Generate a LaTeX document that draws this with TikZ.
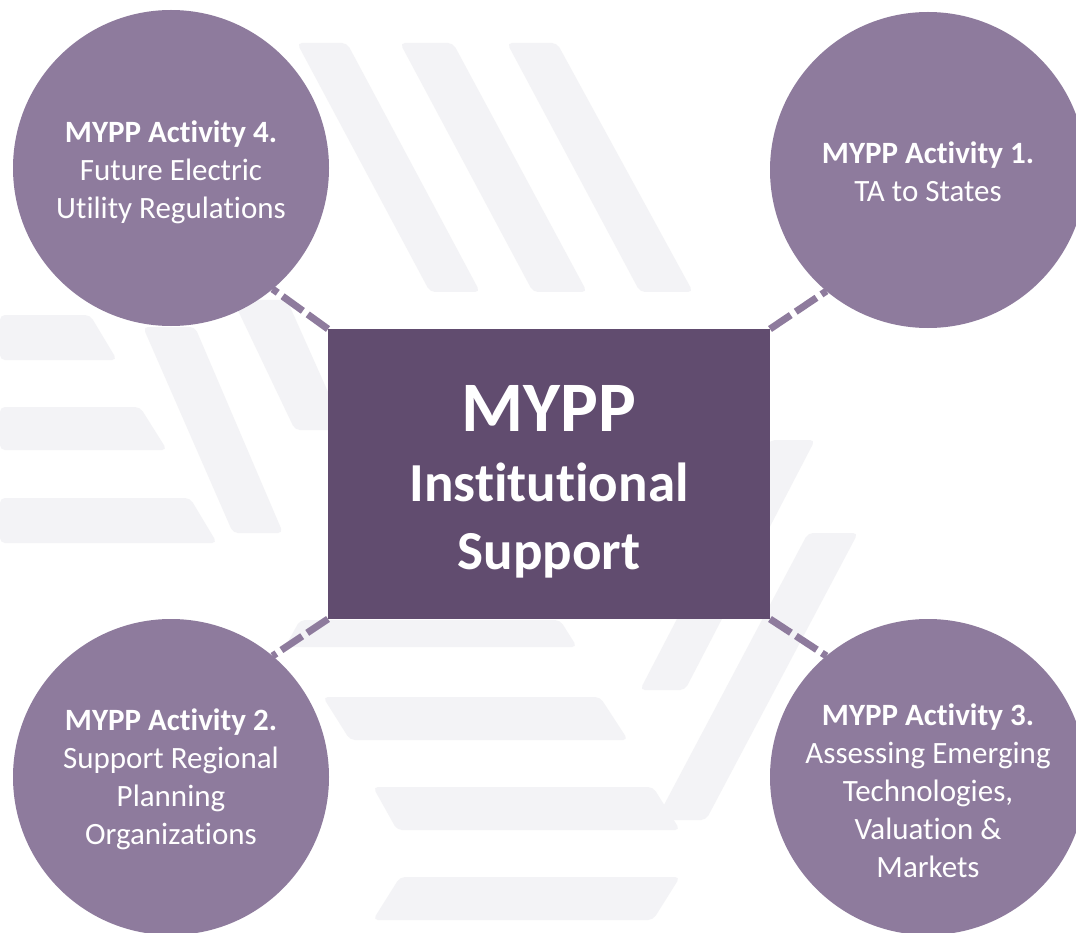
\documentclass[tikz,border=0pt]{standalone}
\usepackage{fontspec}
\setmainfont{Carlito}[Ligatures={NoCommon}]
\definecolor{actfill}{HTML}{8E7B9D}
\definecolor{corefill}{HTML}{614C6F}
\definecolor{stripe}{HTML}{F3F3F6}
\tikzset{
	act/.style={circle, fill=actfill, minimum size=316pt, inner sep=0pt, outer sep=0pt},
	acttxt/.style={align=center, text=white, font=\fontsize{31}{38}\selectfont},
	core/.style={rectangle, fill=corefill, minimum width=442pt, minimum height=290pt, inner sep=0pt, outer sep=0pt},
	coretxt/.style={align=center, text=white, font=\fontsize{55}{68}\selectfont\bfseries},
	link/.style={draw=actfill, line width=7pt, dash pattern=on 25pt off 6pt},
	bgband/.style={fill=stripe, rounded corners=5pt},
}

\begin{document}
\begin{tikzpicture}[x=1pt, y=-1pt]
	\useasboundingbox (0,0) rectangle (1076,933);
	\fill[white] (0,0) rectangle (1076,933);
	% faint logo in the background
	\fill[bgband] (297,43) -- (347,43) -- (480,292) -- (430,292) -- cycle;
	\fill[bgband] (400,43) -- (453,43) -- (587,292) -- (533,292) -- cycle;
	\fill[bgband] (507,43) -- (557,43) -- (693,292) -- (640,292) -- cycle;
	\fill[bgband] (0,315) -- (90,315) -- (117,360) -- (0,360) -- cycle;
	\fill[bgband] (0,407) -- (140,407) -- (167,450) -- (0,450) -- cycle;
	\fill[bgband] (0,498) -- (190,498) -- (217,543) -- (0,543) -- cycle;
	\fill[bgband] (143,327) -- (195,327) -- (283,533) -- (233,533) -- cycle;
	\fill[bgband] (233,300) -- (287,300) -- (345,430) -- (295,430) -- cycle;
	\fill[bgband] (300,620) -- (560,620) -- (577,647) -- (285,647) -- cycle;
	\fill[bgband] (323,697) -- (600,697) -- (628,740) -- (350,740) -- cycle;
	\fill[bgband] (373,787) -- (653,787) -- (680,830) -- (397,830) -- cycle;
	\fill[bgband] (400,877) -- (680,877) -- (653,920) -- (373,920) -- cycle;
	\fill[bgband] (770,440) -- (815,440) -- (685,690) -- (640,690) -- cycle;
	\fill[bgband] (808,533) -- (858,533) -- (706,820) -- (656,820) -- cycle;

	\node[core] (core) at (549,474) {};
	\node[coretxt] (coretxt) at ([yshift=-8pt]core.center) {{\fontsize{71}{71}\selectfont MYPP}\\[2pt] Institutional\\ Support};

	\node[act] (act4) at (171,168) {};
	\node[act] (act1) at (928,170) {};
	\node[act] (act2) at (171,777) {};
	\node[act] (act3) at (928,777) {};
	\node[acttxt] (act4txt) at ([yshift=-4pt]act4.center) {\textbf{MYPP Activity 4.}\\ Future Electric\\ Utility Regulations};
	\node[acttxt] (act1txt) at ([yshift=-2pt]act1.center) {\textbf{MYPP Activity 1.}\\ TA to States};
	\node[acttxt] (act2txt) at ([yshift=-2pt]act2.center) {\textbf{MYPP Activity 2.}\\ Support Regional\\ Planning\\ Organizations};
	\node[acttxt] (act3txt) at ([yshift=-14pt]act3.center) {\textbf{MYPP Activity 3.}\\ Assessing Emerging\\ Technologies,\\ Valuation \&\\ Markets};

	\draw[link] (core.north west) -- (act4.-50);
	\draw[link] (core.north east) -- (act1.230);
	\draw[link] (core.south west) -- (act2.50);
	\draw[link] (core.south east) -- (act3.130);
\end{tikzpicture}
\end{document}
